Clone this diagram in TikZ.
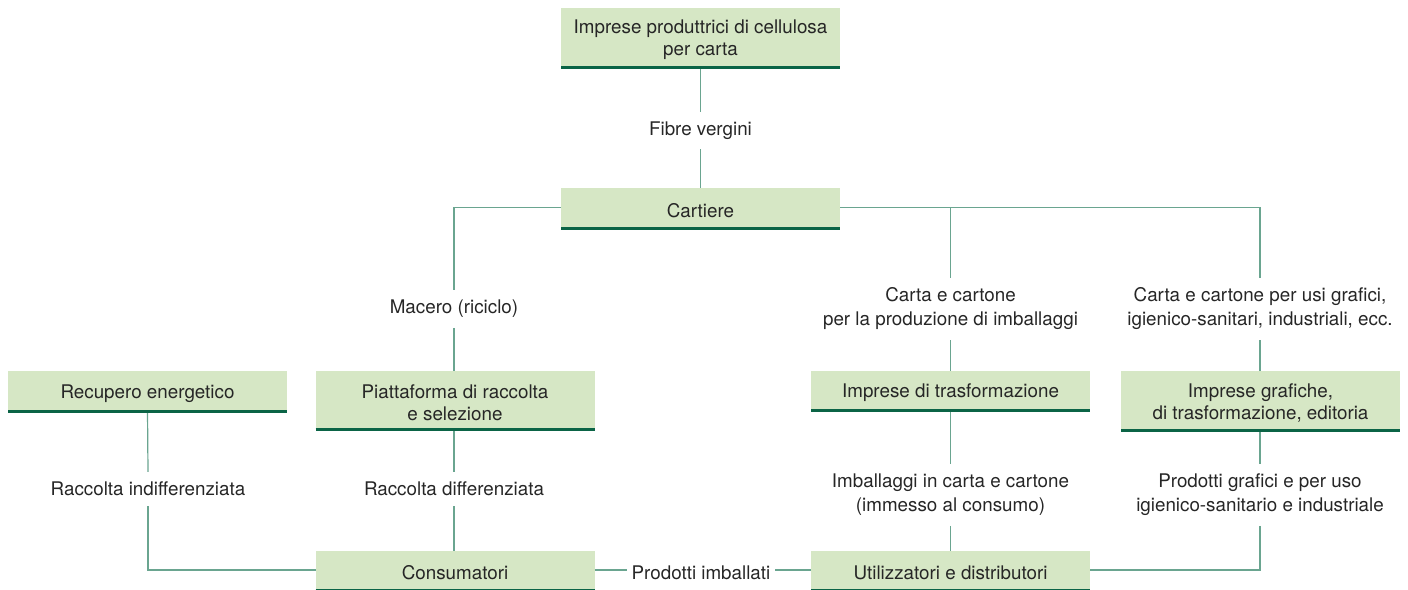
\documentclass[tikz,border=0pt]{standalone}
\usepackage{fontspec}
\setmainfont{TeX Gyre Heros}
\definecolor{boxfill}{HTML}{D6E7C5}
\definecolor{boxline}{HTML}{0B6446}
\definecolor{conn}{HTML}{6AA590}
\definecolor{txt}{HTML}{262626}
\newcommand\lowtxt[1]{\raisebox{-3pt}[\height][\depth]{#1}}
\tikzset{
  box/.style={fill=boxfill, minimum width=279pt, inner sep=0pt, outer sep=0pt, align=center, text=txt,
    font=\fontsize{18.8}{22}\selectfont},
  lbl/.style={inner xsep=5pt, inner ysep=10pt, outer sep=0pt, align=center, text=txt,
    font=\fontsize{18.8}{24}\selectfont},
  bline/.style={draw=boxline, line width=3pt},
  conline/.style={draw=conn, line width=1.2pt},
}
\begin{document}
\begin{tikzpicture}[x=1pt,y=-1pt]
\useasboundingbox (0,0) rectangle (1408,589);
% boxes
\node[box, minimum height=58pt] (imp) at (700.5,37) {\lowtxt{Imprese produttrici di cellulosa}\\\lowtxt{per carta}};
\node[box, minimum height=39pt] (cart) at (700.5,207.5) {\lowtxt{Cartiere}};
\node[box, minimum height=39pt] (rec) at (147.5,390.5) {\lowtxt{Recupero energetico}};
\node[box, minimum height=57pt] (piat) at (455,399.5) {\lowtxt{Piattaforma di raccolta}\\\lowtxt{e selezione}};
\node[box, minimum height=38pt] (itr) at (950.5,390) {\lowtxt{Imprese di trasformazione}};
\node[box, minimum height=58pt] (igr) at (1260.5,400) {\lowtxt{Imprese grafiche,}\\\lowtxt{di trasformazione, editoria}};
\node[box, minimum height=38pt] (cons) at (455,570) {\lowtxt{Consumatori}};
\node[box, minimum height=38pt] (util) at (950.5,570) {\lowtxt{Utilizzatori e distributori}};
% labels
\node[lbl] (fib) at (700.5,130.5) {Fibre vergini};
\node[lbl] (mac) at (454,309) {Macero (riciclo)};
\node[lbl] (cci) at (950.5,309) {Carta e cartone\\per la produzione di imballaggi};
\node[lbl] (ccg) at (1260,309) {Carta e cartone per usi grafici,\\igienico-sanitari, industriali, ecc.};
\node[lbl] (rind) at (148,489) {Raccolta indifferenziata};
\node[lbl] (rdif) at (454,489) {Raccolta differenziata};
\node[lbl] (imb) at (950.5,495) {Imballaggi in carta e cartone\\(immesso al consumo)};
\node[lbl] (pgr) at (1260,495) {Prodotti grafici e per uso\\igienico-sanitario e industriale};
\node[lbl] (pimb) at (701,572.5) {Prodotti imballati};
% connectors
\draw[conline] (imp.south) -- (fib.north);
\draw[conline] (fib.south) -- (cart.north);
\draw[conline] (cart.west) -| (mac.north);
\draw[conline] (mac.south) -- (mac.south |- piat.north);
\draw[conline] (cart.east) -| (ccg.north);
\coordinate (br) at (cci.north |- cart.east);
\draw[conline] (br) -- (cci.north);
\draw[conline] (cci.south) -- (itr.north);
\draw[conline] (ccg.south) -- (ccg.south |- igr.north);
\draw[conline] (rec.south) -- (rind.north);
\draw[conline] (rind.south) |- (cons.west);
\draw[conline] (rdif.north) -- (rdif.north |- piat.south);
\draw[conline] (rdif.south) -- (rdif.south |- cons.north);
\draw[conline] (itr.south) -- (imb.north);
\draw[conline] (imb.south) -- (util.north);
\draw[conline] (igr.south -| pgr.north) -- (pgr.north);
\draw[conline] (pgr.south) |- (util.east);
\draw[conline] (cons.east) -- (cons.east -| pimb.west);
\draw[conline] (util.west -| pimb.east) -- (util.west);
% bottom rules of boxes
\foreach \n in {imp,cart,rec,piat,itr,igr,cons,util}
  \draw[bline] ([yshift=-1.5pt]\n.south west) -- ([yshift=-1.5pt]\n.south east);
\end{tikzpicture}
\end{document}
